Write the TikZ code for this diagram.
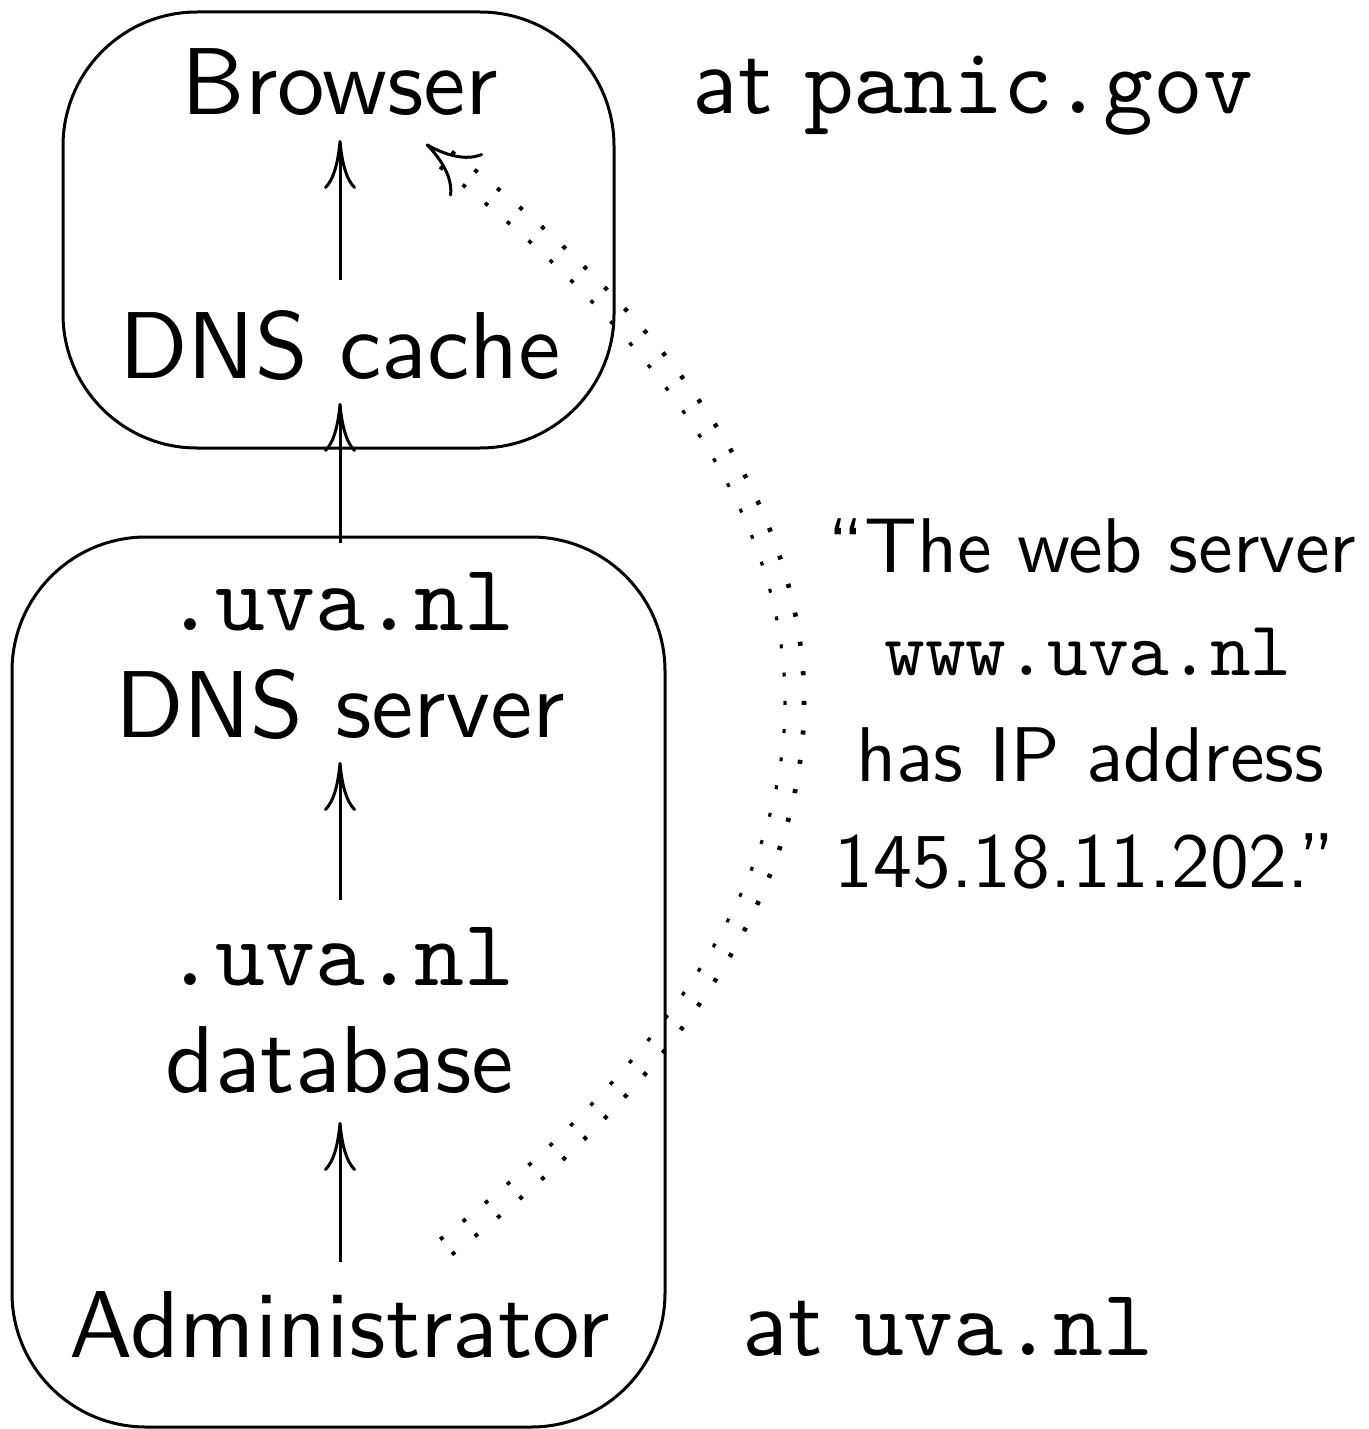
\documentclass[tikz,border=0pt]{standalone}
\usepackage{fontspec}
\setsansfont{lmsans10-regular.otf}
\setmonofont{lmmono10-regular.otf}
\usetikzlibrary{arrows.meta,calc}
\begin{document}
\begin{tikzpicture}[x=0.5pt,y=-0.5pt,
  lbl/.style={inner sep=0pt, anchor=base, font=\fontsize{47.5}{53.5}\selectfont\sffamily},
  lblw/.style={lbl, anchor=base west},
  ttx/.style={font=\fontsize{47.5}{53.5}\selectfont\ttfamily},
  qt/.style={inner sep=0pt, anchor=base, font=\fontsize{38.8}{52.5}\selectfont\sffamily},
  qtt/.style={qt, font=\fontsize{38.8}{52.5}\selectfont\ttfamily},
  frame/.style={draw, line width=1.5pt, rounded corners=67pt},
  arr/.style={line width=1.5pt, -{Computer Modern Rightarrow[length=24.5pt,width=16pt,line width=1.5pt]}},
  darr/.style={line width=1.5pt, -{Computer Modern Rightarrow[length=26pt,width=27pt,line width=1.5pt]}},
  dots/.style={line width=11.5pt, dash pattern=on 2pt off 12.5pt, shorten >=10pt},
  dotcore/.style={white, line width=7.5pt, shorten >=8pt, shorten <=-2pt}
]
\useasboundingbox (0,0) rectangle (1369,1429);

% dotted double curve (drawn first, frames over it)
\coordinate (c0) at (446,1247);
\coordinate (c1) at (426,144);
\coordinate (k0) at (915,882);
\coordinate (k1) at (909,515);
\draw[dots] (c0) .. controls (k0) and (k1) .. (c1);
\draw[dotcore] (c0) .. controls (k0) and (k1) .. (c1);
\draw[darr] ($(c1)!0.005!(k1)$) -- (c1);

% frames
\draw[frame] (63,12) rectangle (614,448);
\draw[frame] (12,537) rectangle (665,1427);

% nodes
\node[lbl] (browser) at (340,115) {Browser};
\node[lbl] (cache) at (340,378) {DNS cache};
\node[lbl,ttx] (srvdom) at (340,630) {.uva.nl};
\node[lbl] (srv) at (340,737) {DNS server};
\node[lbl,ttx] (dbdom) at (340,985) {.uva.nl};
\node[lbl] (db) at (340,1092) {database};
\node[lbl] (admin) at (340,1357) {Administrator};

\node[lblw] (atpanic) at (692,113) {at {\ttfamily panic.gov}};
\node[lblw] (atuva) at (742,1355) {at {\ttfamily uva.nl}};

\node[qt] (q1) at (1092,572) {“The web server};
\node[qtt] (q2) at (1088,675) {www.uva.nl};
\node[qt] (q3) at (1090,781) {has IP address};
\node[qt] (q4) at (1085,887) {145.18.11.202.”};

% arrows
\draw[arr] ($(cache.base)+(0,-98)$) -- ($(browser.base)+(0,25)$);
\draw[arr] ($(srvdom.base)+(0,-87)$) -- ($(cache.base)+(0,25)$);
\draw[arr] ($(dbdom.base)+(0,-85)$) -- ($(srv.base)+(0,25)$);
\draw[arr] ($(admin.base)+(0,-95)$) -- ($(db.base)+(0,30)$);
\end{tikzpicture}
\end{document}
